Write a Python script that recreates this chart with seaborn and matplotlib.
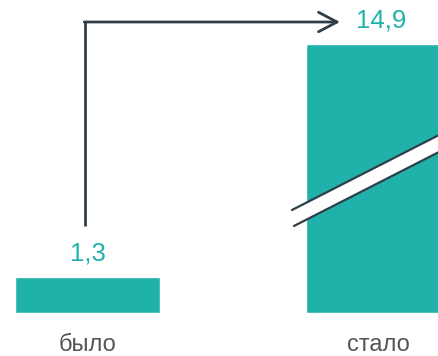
import numpy as np
import pandas as pd
import seaborn as sns
import matplotlib.pyplot as plt
from matplotlib.lines import Line2D
from matplotlib.patches import Polygon

# ---- data ----
categories = ["было", "стало"]
values = [1.3, 14.9]
value_labels = ["1,3", "14,9"]

TEAL = "#20B2AA"
DARK = "#2E3F4A"
GREY = "#555555"

W, H = 439, 356
sns.set_style("white")
plt.rcParams['font.family'] = ['Liberation Sans', 'DejaVu Sans']

fig = plt.figure(figsize=(W / 100, H / 100), dpi=100)
ax = fig.add_axes([0, 43 / H, 1, 313 / H])

df = pd.DataFrame({"category": categories, "value": values})
sns.barplot(data=df, x="category", y="value", color=TEAL, width=0.5,
            saturation=1, ax=ax, errorbar=None)

# broken (compressed) y axis above BREAK
BREAK, K = 4.0, 0.5242


def fwd(y):
    y = np.asarray(y, dtype=float)
    return np.where(y <= BREAK, y, BREAK + (y - BREAK) * K)


def inv(y):
    y = np.asarray(y, dtype=float)
    return np.where(y <= BREAK, y, BREAK + (y - BREAK) / K)


ax.set_yscale('function', functions=(fwd, inv))
ax.set_ylim(0, float(inv(11.30)))
ax.set_xlim(-87.5 / 291, (W - 87.5) / 291)

for s in ax.spines.values():
    s.set_visible(False)
ax.set_yticks([])
ax.set_xlabel("")
ax.set_ylabel("")
ax.tick_params(axis='x', length=0, pad=15, labelsize=17, labelcolor=GREY)

for i, (v, lab) in enumerate(zip(values, value_labels)):
    ax.annotate(lab, xy=(i, v), xytext=(2 * i, 17), textcoords='offset points',
                ha='center', va='center', color=TEAL, fontsize=18.5)


def px(x, y):
    return (x / W, 1 - y / H)


# break band on second bar
slope = -75 / 147
x0, x1 = 292, 450
top0, bot0 = 210, 227
top1 = top0 + slope * (x1 - x0)
bot1 = bot0 + slope * (x1 - x0)
band = Polygon([px(x0, top0), px(x1, top1), px(x1, bot1), px(x0, bot0)],
               closed=True, transform=fig.transFigure, facecolor="white",
               edgecolor="none", zorder=5)
fig.add_artist(band)
fig.add_artist(Line2D([x0 / W, x1 / W], [1 - top0 / H, 1 - top1 / H],
                      transform=fig.transFigure, color=DARK, lw=1.6, zorder=6))
fig.add_artist(Line2D([(x0 + 2) / W, x1 / W],
                      [1 - (bot0 + slope * 2) / H, 1 - bot1 / H],
                      transform=fig.transFigure, color=DARK, lw=1.6, zorder=6))

# arrow from first bar to second label
fig.add_artist(Line2D([85 / W, 85 / W], [1 - 226 / H, 1 - 22 / H],
                      transform=fig.transFigure, color=DARK, lw=2,
                      solid_capstyle='butt'))
ax.annotate("", xy=px(340, 22), xytext=px(84.3, 22),
            xycoords='figure fraction', textcoords='figure fraction',
            arrowprops=dict(arrowstyle='->,head_length=0.95,head_width=0.5',
                            color=DARK, lw=2, mutation_scale=14,
                            shrinkA=0, shrinkB=0))

fig.savefig("out.png", dpi=100)
